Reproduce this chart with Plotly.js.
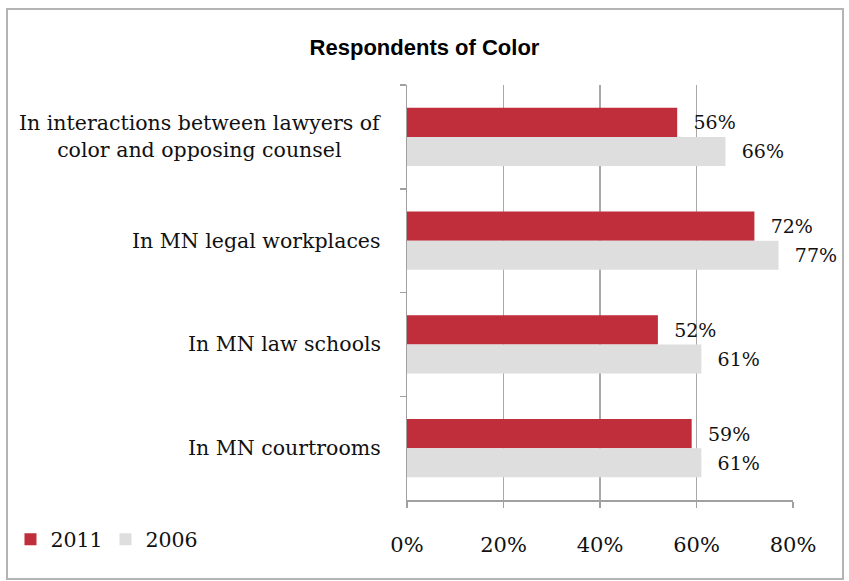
<!DOCTYPE html>
<html>
<head>
<meta charset="utf-8">
<script src="https://cdn.plot.ly/plotly-3.0.1.min.js"></script>
<style>
  html, body { margin: 0; padding: 0; background: #fff; }
  #wrap { position: relative; width: 849px; height: 581px; }
  #chart { position: absolute; left: 0; top: 0; width: 849px; height: 581px; }
  #frame { position: absolute; left: 6px; top: 8px; width: 834px; height: 568px;
           border: 2px solid #b4b4b4; pointer-events: none; }
</style>
</head>
<body>
<div id="wrap">
  <div id="chart"></div>
  <div id="frame"></div>
</div>
<script>
const chartTitle = "Respondents of Color";
const categories = [
  "In interactions between lawyers of<br>color and opposing counsel",
  "In MN legal workplaces",
  "In MN law schools",
  "In MN courtrooms"
];
const seriesNames = ["2011", "2006"];
const values2011 = [56, 72, 52, 59];
const values2006 = [66, 77, 61, 61];
const xTickVals = [0, 20, 40, 60, 80];
const xTickText = ["0%", "20%", "40%", "60%", "80%"];

const serif = "DejaVu Serif, Liberation Serif, serif";
const colors = ["#c02d3b", "#dedede"];

function barTrace(name, vals, color) {
  return {
    type: "bar",
    orientation: "h",
    name: name,
    y: categories,
    x: vals,
    marker: { color: color, line: { width: 0 } },
    text: vals.map(v => v + "%"),
    texttemplate: "\u2002\u2009%{text}",
    textposition: "outside",
    textfont: { family: serif, size: 19, color: "#111" },
    cliponaxis: false,
    constraintext: "none",
    hoverinfo: "skip"
  };
}

const data = [
  barTrace(seriesNames[0], values2011, colors[0]),
  barTrace(seriesNames[1], values2006, colors[1])
];

const annotations = categories.map(c => ({
  xref: "paper", yref: "y",
  x: -0.062, y: c,
  xanchor: "right", yanchor: "middle",
  align: "center",
  text: c,
  showarrow: false,
  font: { family: serif, size: 20.5, color: "#111" }
}));

const layout = {
  width: 849, height: 581,
  paper_bgcolor: "#fff", plot_bgcolor: "#fff",
  margin: { l: 406, r: 56, t: 85, b: 81 },
  title: {
    text: "<b>" + chartTitle + "</b>",
    font: { family: "Liberation Sans Narrow, Arial Narrow, Liberation Sans, sans-serif", size: 22, color: "#000" },
    x: 0.5, xref: "container", xanchor: "center",
    y: 0.919, yref: "container", yanchor: "middle"
  },
  barmode: "group",
  bargap: 0.44,
  bargroupgap: 0,
  showlegend: true,
  legend: {
    orientation: "h",
    x: -1.022, xanchor: "left",
    y: -0.095, yanchor: "middle",
    font: { family: serif, size: 20.5, color: "#111" },
    itemwidth: 30,
    entrywidth: 50,
    entrywidthmode: "pixels",
    traceorder: "normal"
  },
  xaxis: {
    range: [0, 80],
    tickvals: xTickVals,
    ticktext: xTickText,
    showgrid: true,
    gridcolor: "#a8a8a8",
    gridwidth: 1.5,
    zeroline: false,
    showline: true,
    linecolor: "#a0a0a0",
    linewidth: 1.5,
    ticks: "outside",
    ticklen: 6,
    tickcolor: "#a0a0a0",
    tickwidth: 1.5,
    ticklabelstandoff: 19,
    tickfont: { family: serif, size: 21, color: "#111" },
    fixedrange: true
  },
  yaxis: {
    autorange: "reversed",
    type: "category",
    showticklabels: false,
    showgrid: false,
    zeroline: false,
    showline: true,
    linecolor: "#a0a0a0",
    linewidth: 1.5,
    ticks: "outside",
    tickson: "boundaries",
    ticklen: 6,
    tickcolor: "#a0a0a0",
    tickwidth: 1.5,
    fixedrange: true
  },
  annotations: annotations
};

Plotly.newPlot("chart", data, layout, { displayModeBar: false, staticPlot: true });
</script>
</body>
</html>
